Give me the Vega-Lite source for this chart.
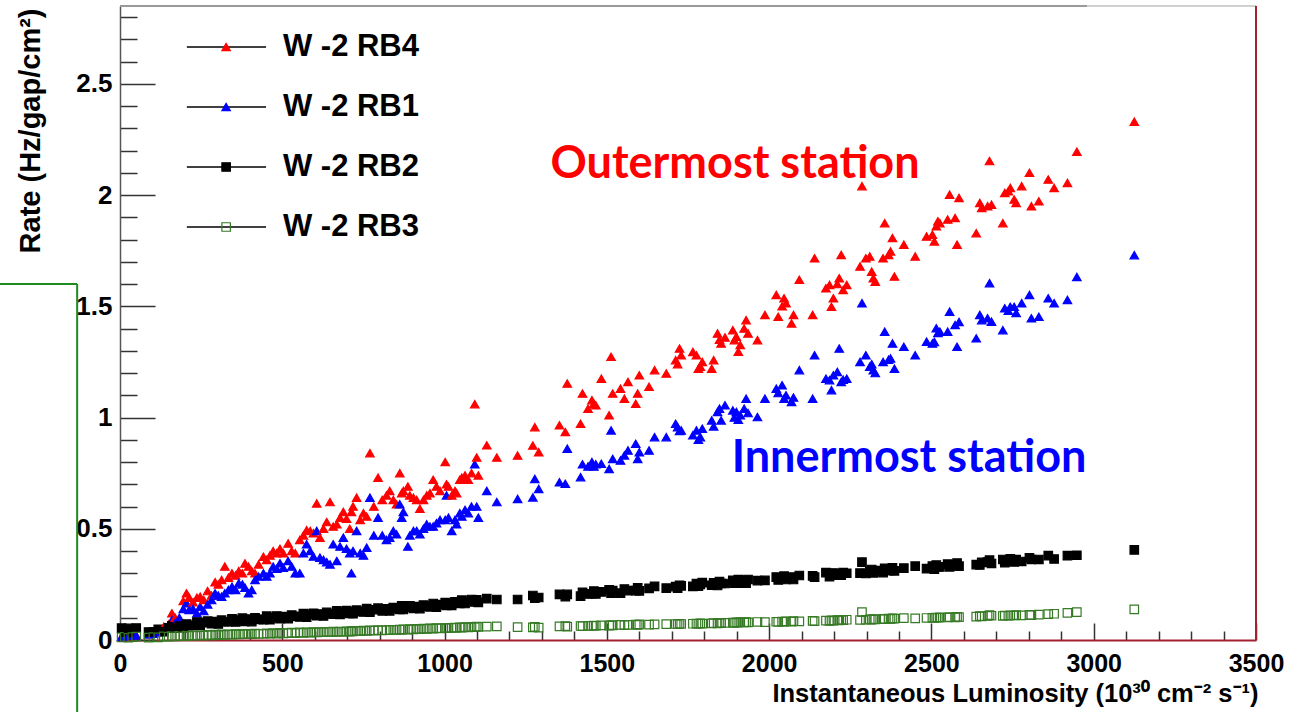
{
  "$schema": "https://vega.github.io/schema/vega-lite/v6.json",
  "width": 1136,
  "height": 634,
  "autosize": {"type": "none"},
  "padding": {"left": 120, "top": 6, "right": 38, "bottom": 72},
  "background": "white",
  "config": {"view": {"stroke": null}, "font": "Liberation Sans"},
  "datasets": {
    "legend": [
      {"code": "r4", "name": "W -2 RB4"},
      {"code": "r1", "name": "W -2 RB1"},
      {"code": "r2", "name": "W -2 RB2"},
      {"code": "r3", "name": "W -2 RB3"}
    ],
    "rates": [
      {"L":5,"r4":0.012,"r1":0.015,"r2":0.053,"r3":0.012},
      {"L":15,"r4":0.01,"r1":0.012,"r2":0.035,"r3":0.014},
      {"L":26,"r4":0.015,"r1":0.016,"r2":0.052,"r3":0.01},
      {"L":38,"r4":0.012,"r1":0.018,"r2":0.034,"r3":0.013},
      {"L":50,"r4":0.02,"r1":0.02,"r2":0.054,"r3":0.015},
      {"L":88,"r4":0.03,"r1":0.025,"r2":0.036,"r3":0.011},
      {"L":103,"r4":0.035,"r1":0.028,"r2":0.036,"r3":0.013},
      {"L":118,"r4":0.045,"r1":0.035,"r2":0.048,"r3":0.012},
      {"L":135,"r4":0.06,"r1":0.045,"r2":0.037,"r3":0.016},
      {"L":150,"r4":0.07,"r1":0.055,"r2":0.055,"r3":0.015},
      {"L":160,"r4":0.12,"r1":0.09,"r2":0.064,"r3":0.018},
      {"L":170,"r4":0.1,"r1":0.075,"r2":0.053,"r3":0.016},
      {"L":183,"r4":0.09,"r1":0.1,"r2":0.062,"r3":0.019},
      {"L":195,"r4":0.175,"r1":0.14,"r2":0.055,"r3":0.017},
      {"L":205,"r4":0.21,"r1":0.165,"r2":0.072,"r3":0.02},
      {"L":213,"r4":0.19,"r1":0.135,"r2":0.065,"r3":0.018},
      {"L":225,"r4":0.17,"r1":0.14,"r2":0.066,"r3":0.021},
      {"L":237,"r4":0.19,"r1":0.12,"r2":0.081,"r3":0.019},
      {"L":247,"r4":0.195,"r1":0.15,"r2":0.067,"r3":0.022},
      {"L":258,"r4":0.18,"r1":0.13,"r2":0.078,"r3":0.02},
      {"L":270,"r4":0.22,"r1":0.16,"r2":0.085,"r3":0.023},
      {"L":282,"r4":0.2,"r1":0.18,"r2":0.073,"r3":0.021},
      {"L":293,"r4":0.26,"r1":0.21,"r2":0.083,"r3":0.024},
      {"L":303,"r4":0.25,"r1":0.2,"r2":0.072,"r3":0.022},
      {"L":313,"r4":0.27,"r1":0.195,"r2":0.089,"r3":0.025},
      {"L":323,"r4":0.33,"r1":0.21,"r2":0.082,"r3":0.023},
      {"L":334,"r4":0.28,"r1":0.225,"r2":0.082,"r3":0.025},
      {"L":345,"r4":0.3,"r1":0.24,"r2":0.095,"r3":0.024},
      {"L":356,"r4":0.29,"r1":0.225,"r2":0.081,"r3":0.026},
      {"L":366,"r4":0.31,"r1":0.255,"r2":0.09,"r3":0.025},
      {"L":377,"r4":0.3,"r1":0.25,"r2":0.098,"r3":0.027},
      {"L":385,"r4":0.344,"r1":0.235,"r2":0.084,"r3":0.026},
      {"L":396,"r4":0.33,"r1":0.21,"r2":0.094,"r3":0.028},
      {"L":406,"r4":0.31,"r1":0.225,"r2":0.083,"r3":0.026},
      {"L":416,"r4":0.3,"r1":0.27,"r2":0.1,"r3":0.029},
      {"L":427,"r4":0.34,"r1":0.285,"r2":0.093,"r3":0.027},
      {"L":442,"r4":0.374,"r1":0.3,"r2":0.092,"r3":0.028},
      {"L":452,"r4":0.36,"r1":0.285,"r2":0.107,"r3":0.03},
      {"L":462,"r4":0.38,"r1":0.3,"r2":0.091,"r3":0.028},
      {"L":472,"r4":0.4,"r1":0.33,"r2":0.102,"r3":0.031},
      {"L":483,"r4":0.39,"r1":0.32,"r2":0.108,"r3":0.029},
      {"L":493,"r4":0.41,"r1":0.345,"r2":0.096,"r3":0.032},
      {"L":503,"r4":0.39,"r1":0.325,"r2":0.105,"r3":0.03},
      {"L":518,"r4":0.434,"r1":0.355,"r2":0.096,"r3":0.031},
      {"L":529,"r4":0.4,"r1":0.33,"r2":0.112,"r3":0.033},
      {"L":540,"r4":0.39,"r1":0.3,"r2":0.106,"r3":0.031},
      {"L":554,"r4":0.45,"r1":0.3,"r2":0.104,"r3":0.034},
      {"L":565,"r4":0.47,"r1":0.39,"r2":0.119,"r3":0.032},
      {"L":575,"r4":0.494,"r1":0.43,"r2":0.103,"r3":0.034},
      {"L":586,"r4":0.49,"r1":0.4,"r2":0.115,"r3":0.033},
      {"L":596,"r4":0.48,"r1":0.375,"r2":0.12,"r3":0.035},
      {"L":606,"r4":0.614,"r1":0.49,"r2":0.109,"r3":0.034},
      {"L":616,"r4":0.46,"r1":0.37,"r2":0.117,"r3":0.036},
      {"L":627,"r4":0.5,"r1":0.36,"r2":0.108,"r3":0.035},
      {"L":637,"r4":0.53,"r1":0.35,"r2":0.124,"r3":0.037},
      {"L":647,"r4":0.62,"r1":0.34,"r2":0.118,"r3":0.036},
      {"L":657,"r4":0.51,"r1":0.43,"r2":0.116,"r3":0.038},
      {"L":668,"r4":0.52,"r1":0.355,"r2":0.131,"r3":0.036},
      {"L":678,"r4":0.55,"r1":0.42,"r2":0.115,"r3":0.038},
      {"L":688,"r4":0.576,"r1":0.46,"r2":0.126,"r3":0.037},
      {"L":698,"r4":0.545,"r1":0.41,"r2":0.132,"r3":0.039},
      {"L":708,"r4":0.5,"r1":0.39,"r2":0.12,"r3":0.038},
      {"L":713,"r4":0.576,"r1":0.3,"r2":0.128,"r3":0.04},
      {"L":718,"r4":0.6,"r1":0.4,"r2":0.118,"r3":0.039},
      {"L":729,"r4":0.64,"r1":0.49,"r2":0.134,"r3":0.041},
      {"L":740,"r4":0.54,"r1":0.39,"r2":0.129,"r3":0.04},
      {"L":750,"r4":0.57,"r1":0.38,"r2":0.126,"r3":0.042},
      {"L":760,"r4":0.555,"r1":0.415,"r2":0.141,"r3":0.041},
      {"L":770,"r4":0.84,"r1":0.64,"r2":0.125,"r3":0.043},
      {"L":782,"r4":0.6,"r1":0.47,"r2":0.136,"r3":0.042},
      {"L":795,"r4":0.73,"r1":0.55,"r2":0.143,"r3":0.044},
      {"L":808,"r4":0.63,"r1":0.47,"r2":0.131,"r3":0.043},
      {"L":821,"r4":0.65,"r1":0.45,"r2":0.14,"r3":0.045},
      {"L":831,"r4":0.67,"r1":0.46,"r2":0.131,"r3":0.044},
      {"L":842,"r4":0.63,"r1":0.49,"r2":0.146,"r3":0.046},
      {"L":852,"r4":0.61,"r1":0.475,"r2":0.141,"r3":0.045},
      {"L":862,"r4":0.75,"r1":0.61,"r2":0.138,"r3":0.047},
      {"L":868,"r4":0.66,"r1":0.55,"r2":0.153,"r3":0.046},
      {"L":873,"r4":0.67,"r1":0.575,"r2":0.137,"r3":0.048},
      {"L":887,"r4":0.69,"r1":0.42,"r2":0.148,"r3":0.047},
      {"L":893,"r4":0.65,"r1":0.47,"r2":0.154,"r3":0.049},
      {"L":904,"r4":0.64,"r1":0.49,"r2":0.142,"r3":0.048},
      {"L":914,"r4":0.63,"r1":0.49,"r2":0.15,"r3":0.05},
      {"L":924,"r4":0.59,"r1":0.475,"r2":0.141,"r3":0.049},
      {"L":935,"r4":0.63,"r1":0.5,"r2":0.157,"r3":0.051},
      {"L":945,"r4":0.65,"r1":0.52,"r2":0.152,"r3":0.05},
      {"L":955,"r4":0.66,"r1":0.51,"r2":0.149,"r3":0.052},
      {"L":965,"r4":0.72,"r1":0.51,"r2":0.164,"r3":0.051},
      {"L":975,"r4":0.69,"r1":0.525,"r2":0.148,"r3":0.053},
      {"L":986,"r4":0.67,"r1":0.54,"r2":0.159,"r3":0.052},
      {"L":1002,"r4":0.8,"r1":0.54,"r2":0.168,"r3":0.054},
      {"L":1006,"r4":0.7,"r1":0.65,"r2":0.156,"r3":0.053},
      {"L":1012,"r4":0.69,"r1":0.55,"r2":0.164,"r3":0.055},
      {"L":1022,"r4":0.65,"r1":0.49,"r2":0.156,"r3":0.054},
      {"L":1032,"r4":0.67,"r1":0.54,"r2":0.171,"r3":0.056},
      {"L":1037,"r4":0.66,"r1":0.52,"r2":0.166,"r3":0.055},
      {"L":1047,"r4":0.72,"r1":0.57,"r2":0.164,"r3":0.057},
      {"L":1053,"r4":0.73,"r1":0.555,"r2":0.179,"r3":0.056},
      {"L":1063,"r4":0.74,"r1":0.585,"r2":0.164,"r3":0.058},
      {"L":1073,"r4":0.72,"r1":0.57,"r2":0.175,"r3":0.057},
      {"L":1083,"r4":0.75,"r1":0.6,"r2":0.182,"r3":0.059},
      {"L":1093,"r4":1.06,"r1":0.79,"r2":0.171,"r3":0.058},
      {"L":1099,"r4":0.82,"r1":0.6,"r2":0.18,"r3":0.06},
      {"L":1104,"r4":0.74,"r1":0.55,"r2":0.169,"r3":0.059},
      {"L":1130,"r4":0.875,"r1":0.67,"r2":0.186,"r3":0.06},
      {"L":1161,"r4":0.82,"r1":0.62,"r2":0.182,"r3":0.061},
      {"L":1225,"r4":0.829,"r1":0.634,"r2":0.182,"r3":0.058},
      {"L":1272,"r4":0.874,"r1":0.641,"r2":0.2,"r3":0.057},
      {"L":1278,"r4":0.957,"r1":0.724,"r2":0.188,"r3":0.059},
      {"L":1290,"r4":0.844,"r1":0.679,"r2":0.191,"r3":0.056},
      {"L":1354,"r4":0.965,"r1":0.709,"r2":0.205,"r3":0.061},
      {"L":1372,"r4":0.935,"r1":0.702,"r2":0.195,"r3":0.062},
      {"L":1378,"r4":1.153,"r1":0.86,"r2":0.205,"r3":0.06},
      {"L":1419,"r4":0.972,"r1":0.732,"r2":0.197,"r3":0.063},
      {"L":1425,"r4":1.108,"r1":0.79,"r2":0.214,"r3":0.062},
      {"L":1442,"r4":1.04,"r1":0.78,"r2":0.207,"r3":0.064},
      {"L":1454,"r4":1.078,"r1":0.8,"r2":0.208,"r3":0.063},
      {"L":1460,"r4":1.062,"r1":0.78,"r2":0.22,"r3":0.065},
      {"L":1466,"r4":1.055,"r1":0.79,"r2":0.207,"r3":0.064},
      {"L":1483,"r4":1.175,"r1":0.792,"r2":0.216,"r3":0.066},
      {"L":1507,"r4":1.01,"r1":0.769,"r2":0.226,"r3":0.065},
      {"L":1513,"r4":1.273,"r1":0.942,"r2":0.211,"r3":0.067},
      {"L":1518,"r4":1.108,"r1":0.814,"r2":0.222,"r3":0.066},
      {"L":1542,"r4":1.13,"r1":0.807,"r2":0.211,"r3":0.068},
      {"L":1554,"r4":1.085,"r1":0.83,"r2":0.229,"r3":0.067},
      {"L":1565,"r4":1.16,"r1":0.852,"r2":0.222,"r3":0.068},
      {"L":1589,"r4":1.062,"r1":0.882,"r2":0.222,"r3":0.069},
      {"L":1595,"r4":1.108,"r1":0.814,"r2":0.235,"r3":0.068},
      {"L":1600,"r4":1.19,"r1":0.844,"r2":0.221,"r3":0.07},
      {"L":1630,"r4":1.138,"r1":0.852,"r2":0.232,"r3":0.069},
      {"L":1647,"r4":1.213,"r1":0.912,"r2":0.241,"r3":0.07},
      {"L":1683,"r4":1.198,"r1":0.912,"r2":0.233,"r3":0.071},
      {"L":1712,"r4":1.258,"r1":0.972,"r2":0.24,"r3":0.072},
      {"L":1718,"r4":1.24,"r1":0.957,"r2":0.233,"r3":0.071},
      {"L":1724,"r4":1.31,"r1":0.94,"r2":0.246,"r3":0.073},
      {"L":1729,"r4":1.28,"r1":0.942,"r2":0.243,"r3":0.072},
      {"L":1765,"r4":1.295,"r1":0.92,"r2":0.241,"r3":0.073},
      {"L":1776,"r4":1.28,"r1":0.942,"r2":0.254,"r3":0.074},
      {"L":1782,"r4":1.22,"r1":0.9,"r2":0.242,"r3":0.073},
      {"L":1788,"r4":1.228,"r1":0.912,"r2":0.25,"r3":0.075},
      {"L":1794,"r4":1.25,"r1":0.95,"r2":0.258,"r3":0.074},
      {"L":1823,"r4":1.22,"r1":0.987,"r2":0.246,"r3":0.075},
      {"L":1829,"r4":1.258,"r1":0.96,"r2":0.257,"r3":0.076},
      {"L":1841,"r4":1.378,"r1":1.025,"r2":0.245,"r3":0.075},
      {"L":1847,"r4":1.35,"r1":1.04,"r2":0.262,"r3":0.077},
      {"L":1852,"r4":1.333,"r1":0.987,"r2":0.254,"r3":0.076},
      {"L":1864,"r4":1.36,"r1":1.055,"r2":0.254,"r3":0.077},
      {"L":1888,"r4":1.393,"r1":1.032,"r2":0.268,"r3":0.078},
      {"L":1893,"r4":1.348,"r1":1.0,"r2":0.255,"r3":0.077},
      {"L":1899,"r4":1.363,"r1":1.025,"r2":0.263,"r3":0.079},
      {"L":1905,"r4":1.296,"r1":0.99,"r2":0.271,"r3":0.078},
      {"L":1911,"r4":1.326,"r1":1.01,"r2":0.256,"r3":0.08},
      {"L":1923,"r4":1.4,"r1":1.04,"r2":0.267,"r3":0.079},
      {"L":1929,"r4":1.438,"r1":1.085,"r2":0.255,"r3":0.08},
      {"L":1935,"r4":1.378,"r1":1.02,"r2":0.272,"r3":0.079},
      {"L":1964,"r4":1.348,"r1":1.002,"r2":0.267,"r3":0.081},
      {"L":1987,"r4":1.461,"r1":1.085,"r2":0.268,"r3":0.08},
      {"L":2022,"r4":1.551,"r1":1.13,"r2":0.283,"r3":0.082},
      {"L":2028,"r4":1.453,"r1":1.11,"r2":0.27,"r3":0.081},
      {"L":2040,"r4":1.5,"r1":1.145,"r2":0.278,"r3":0.083},
      {"L":2046,"r4":1.536,"r1":1.085,"r2":0.287,"r3":0.082},
      {"L":2052,"r4":1.514,"r1":1.1,"r2":0.272,"r3":0.084},
      {"L":2069,"r4":1.423,"r1":1.07,"r2":0.283,"r3":0.083},
      {"L":2075,"r4":1.461,"r1":1.09,"r2":0.272,"r3":0.085},
      {"L":2093,"r4":1.619,"r1":1.213,"r2":0.29,"r3":0.084},
      {"L":2134,"r4":1.461,"r1":1.085,"r2":0.288,"r3":0.086},
      {"L":2140,"r4":1.716,"r1":1.28,"r2":0.283,"r3":0.085},
      {"L":2175,"r4":1.581,"r1":1.175,"r2":0.303,"r3":0.087},
      {"L":2186,"r4":1.596,"r1":1.168,"r2":0.285,"r3":0.086},
      {"L":2192,"r4":1.498,"r1":1.123,"r2":0.298,"r3":0.088},
      {"L":2198,"r4":1.536,"r1":1.19,"r2":0.301,"r3":0.087},
      {"L":2210,"r4":1.6,"r1":1.205,"r2":0.292,"r3":0.089},
      {"L":2216,"r4":1.626,"r1":1.31,"r2":0.297,"r3":0.088},
      {"L":2222,"r4":1.731,"r1":1.16,"r2":0.291,"r3":0.09},
      {"L":2228,"r4":1.574,"r1":1.17,"r2":0.303,"r3":0.089},
      {"L":2239,"r4":1.596,"r1":1.175,"r2":0.3,"r3":0.091},
      {"L":2280,"r4":1.679,"r1":1.25,"r2":0.301,"r3":0.09},
      {"L":2286,"r4":2.04,"r1":1.514,"r2":0.35,"r3":0.125},
      {"L":2298,"r4":1.716,"r1":1.28,"r2":0.299,"r3":0.091},
      {"L":2310,"r4":1.724,"r1":1.228,"r2":0.307,"r3":0.093},
      {"L":2316,"r4":1.656,"r1":1.24,"r2":0.317,"r3":0.092},
      {"L":2321,"r4":1.626,"r1":1.213,"r2":0.302,"r3":0.094},
      {"L":2327,"r4":1.611,"r1":1.2,"r2":0.312,"r3":0.093},
      {"L":2351,"r4":1.716,"r1":1.25,"r2":0.303,"r3":0.095},
      {"L":2356,"r4":1.874,"r1":1.386,"r2":0.322,"r3":0.094},
      {"L":2368,"r4":1.731,"r1":1.26,"r2":0.313,"r3":0.096},
      {"L":2374,"r4":1.747,"r1":1.266,"r2":0.313,"r3":0.095},
      {"L":2380,"r4":1.807,"r1":1.333,"r2":0.324,"r3":0.097},
      {"L":2386,"r4":1.634,"r1":1.22,"r2":0.311,"r3":0.096},
      {"L":2415,"r4":1.777,"r1":1.318,"r2":0.323,"r3":0.098},
      {"L":2450,"r4":1.724,"r1":1.28,"r2":0.332,"r3":0.097},
      {"L":2485,"r4":1.814,"r1":1.341,"r2":0.321,"r3":0.099},
      {"L":2503,"r4":1.822,"r1":1.333,"r2":0.332,"r3":0.1},
      {"L":2509,"r4":1.792,"r1":1.34,"r2":0.319,"r3":0.099},
      {"L":2515,"r4":1.86,"r1":1.401,"r2":0.337,"r3":0.101},
      {"L":2520,"r4":1.882,"r1":1.38,"r2":0.329,"r3":0.1},
      {"L":2526,"r4":1.874,"r1":1.386,"r2":0.329,"r3":0.102},
      {"L":2550,"r4":1.89,"r1":1.386,"r2":0.341,"r3":0.101},
      {"L":2556,"r4":2.002,"r1":1.476,"r2":0.329,"r3":0.103},
      {"L":2573,"r4":1.897,"r1":1.416,"r2":0.337,"r3":0.102},
      {"L":2579,"r4":1.777,"r1":1.318,"r2":0.346,"r3":0.104},
      {"L":2585,"r4":1.987,"r1":1.43,"r2":0.332,"r3":0.103},
      {"L":2638,"r4":1.829,"r1":1.356,"r2":0.339,"r3":0.105},
      {"L":2649,"r4":1.965,"r1":1.461,"r2":0.337,"r3":0.107},
      {"L":2655,"r4":1.942,"r1":1.438,"r2":0.349,"r3":0.106},
      {"L":2673,"r4":1.95,"r1":1.446,"r2":0.35,"r3":0.108},
      {"L":2679,"r4":2.153,"r1":1.604,"r2":0.359,"r3":0.112},
      {"L":2685,"r4":1.957,"r1":1.431,"r2":0.344,"r3":0.109},
      {"L":2720,"r4":1.874,"r1":1.393,"r2":0.362,"r3":0.108},
      {"L":2726,"r4":2.01,"r1":1.491,"r2":0.348,"r3":0.11},
      {"L":2737,"r4":2.017,"r1":1.48,"r2":0.356,"r3":0.109},
      {"L":2743,"r4":2.032,"r1":1.498,"r2":0.365,"r3":0.111},
      {"L":2755,"r4":1.98,"r1":1.498,"r2":0.351,"r3":0.11},
      {"L":2761,"r4":1.965,"r1":1.47,"r2":0.361,"r3":0.112},
      {"L":2778,"r4":2.04,"r1":1.514,"r2":0.353,"r3":0.111},
      {"L":2802,"r4":2.1,"r1":1.551,"r2":0.369,"r3":0.113},
      {"L":2808,"r4":1.95,"r1":1.446,"r2":0.362,"r3":0.112},
      {"L":2831,"r4":1.972,"r1":1.453,"r2":0.362,"r3":0.114},
      {"L":2860,"r4":2.07,"r1":1.536,"r2":0.379,"r3":0.116},
      {"L":2878,"r4":2.032,"r1":1.514,"r2":0.364,"r3":0.118},
      {"L":2919,"r4":2.055,"r1":1.529,"r2":0.379,"r3":0.122},
      {"L":2948,"r4":2.195,"r1":1.632,"r2":0.381,"r3":0.125},
      {"L":3125,"r4":2.33,"r1":1.73,"r2":0.405,"r3":0.138}
    ]
  },
  "layer": [
    {
      "layer": [
        {
          "data": {"values": [{}]},
          "mark": {"type": "rule", "color": "#9a9a9a", "strokeWidth": 2},
          "encoding": {"x": {"datum": 0}, "x2": {"datum": 2980}, "y": {"datum": 2.85}}
        },
        {
          "data": {"values": [{}]},
          "mark": {"type": "rule", "color": "#d0d0d0", "strokeWidth": 2},
          "encoding": {"x": {"datum": 2980}, "x2": {"datum": 3500}, "y": {"datum": 2.85}}
        },
        {
          "data": {"values": [{}]},
          "mark": {"type": "rule", "color": "#a3202e", "strokeWidth": 2},
          "encoding": {"x": {"datum": 3500}, "y": {"datum": 0}, "y2": {"datum": 2.85}}
        },
        {
          "data": {"values": [{}]},
          "mark": {"type": "rule", "color": "#1f8a1f", "strokeWidth": 2},
          "encoding": {"x": {"datum": -132}, "y": {"datum": -0.34}, "y2": {"datum": 1.6}}
        },
        {
          "data": {"values": [{}]},
          "mark": {"type": "rule", "color": "#1f8a1f", "strokeWidth": 2},
          "encoding": {"x": {"datum": -372}, "x2": {"datum": -132}, "y": {"datum": 1.6}}
        },
        {
          "data": {"name": "rates"},
          "transform": [
            {"fold": ["r4", "r1", "r2", "r3"], "as": ["code", "rate"]},
            {"lookup": "code", "from": {"data": {"name": "legend"}, "key": "code", "fields": ["name"]}}
          ],
          "mark": {"type": "point", "strokeWidth": 1.2, "opacity": 1},
          "encoding": {
            "x": {
              "field": "L", "type": "quantitative",
              "scale": {"domain": [0, 3500], "nice": false, "zero": false},
              "axis": {
                "title": "Instantaneous Luminosity (10³⁰ cm⁻² s⁻¹)",
                "values": [0,100,200,300,400,500,600,700,800,900,1000,1100,1200,1300,1400,1500,1600,1700,1800,1900,2000,2100,2200,2300,2400,2500,2600,2700,2800,2900,3000,3100,3200,3300,3400,3500],
                "tickCount": 200,
                "format": "d",
                "labelExpr": "datum.value % 500 === 0 ? datum.label : ''",
                "tickSize": {"condition": {"test": "datum.value % 500 === 0", "value": -17}, "value": -9},
                "tickColor": "#333333",
                "tickWidth": 1.5,
                "domainColor": "#a3202e",
                "domainWidth": 2,
                "grid": false,
                "labelFont": "Liberation Sans",
                "labelFontSize": 25,
                "labelFontWeight": "bold",
                "labelColor": "black",
                "labelPadding": 28,
                "labelFlush": false,
                "labelOverlap": false,
                "titleFont": "Liberation Sans",
                "titleFontSize": 25.5,
                "titleFontWeight": "bold",
                "titleColor": "black",
                "titleAlign": "right",
                "titleAnchor": "end",
                "titleX": 1138,
                "titleY": 61,
                "titleBaseline": "alphabetic"
              }
            },
            "y": {
              "field": "rate", "type": "quantitative",
              "scale": {"domain": [0, 2.85], "nice": false, "zero": false},
              "axis": {
                "title": "Rate (Hz/gap/cm²)",
                "values": [0,0.1,0.2,0.3,0.4,0.5,0.6,0.7,0.8,0.9,1,1.1,1.2,1.3,1.4,1.5,1.6,1.7,1.8,1.9,2,2.1,2.2,2.3,2.4,2.5,2.6,2.7,2.8],
                "tickCount": 200,
                "format": "~g",
                "labelExpr": "abs(datum.value*2 - round(datum.value*2)) < 0.001 ? datum.label : ''",
                "tickSize": {"condition": {"test": "abs(datum.value*2 - round(datum.value*2)) < 0.001", "value": -35}, "value": -17},
                "tickColor": "#333333",
                "tickWidth": 1.5,
                "domainColor": "#555555",
                "domainWidth": 1.5,
                "grid": false,
                "labelFont": "Liberation Sans",
                "labelFontSize": 26,
                "labelFontWeight": "bold",
                "labelColor": "black",
                "labelPadding": 43,
                "labelFlush": false,
                "labelOverlap": false,
                "titleFont": "Liberation Sans",
                "titleFontSize": 29,
                "titleFontWeight": "bold",
                "titleColor": "black",
                "titleAngle": 270,
                "titleAlign": "right",
                "titleBaseline": "middle",
                "titleX": -90,
                "titleY": 2
              }
            },
            "shape": {"field": "name", "type": "nominal", "legend": null,
              "scale": {"domain": ["W -2 RB4", "W -2 RB1", "W -2 RB2", "W -2 RB3"], "range": ["triangle-up", "triangle-up", "square", "square"]}},
            "size": {"field": "name", "type": "nominal", "legend": null,
              "scale": {"domain": ["W -2 RB4", "W -2 RB1", "W -2 RB2", "W -2 RB3"], "range": [72, 72, 90, 85]}},
            "fill": {"field": "name", "type": "nominal", "legend": null,
              "scale": {"domain": ["W -2 RB4", "W -2 RB1", "W -2 RB2", "W -2 RB3"], "range": ["#ff0000", "#0000ff", "#000000", "transparent"]}},
            "stroke": {"field": "name", "type": "nominal", "legend": null,
              "scale": {"domain": ["W -2 RB4", "W -2 RB1", "W -2 RB2", "W -2 RB3"], "range": ["#ff0000", "#0000ff", "#000000", "#367a25"]}}
          }
        },
        {
          "data": {"values": [{}]},
          "mark": {"type": "text", "font": "Lato", "fontSize": 45, "fontWeight": "bold", "color": "#ff0000", "align": "center", "baseline": "middle"},
          "encoding": {"x": {"datum": 1895}, "y": {"datum": 2.14}, "text": {"value": "Outermost station"}}
        },
        {
          "data": {"values": [{}]},
          "mark": {"type": "text", "font": "Lato", "fontSize": 45, "fontWeight": "bold", "color": "#0000ff", "align": "center", "baseline": "middle"},
          "encoding": {"x": {"datum": 2431}, "y": {"datum": 0.82}, "text": {"value": "Innermost station"}}
        }
      ]
    },
    {
      "data": {"name": "legend"},
      "encoding": {
        "y": {"field": "name", "type": "nominal", "axis": null,
          "scale": {"type": "point", "domain": ["W -2 RB4", "W -2 RB1", "W -2 RB2", "W -2 RB3"], "range": [41, 221], "padding": 0}}
      },
      "layer": [
        {
          "mark": {"type": "rule", "color": "black", "strokeWidth": 1.5},
          "encoding": {"x": {"datum": 206}, "x2": {"datum": 450}}
        },
        {
          "mark": {"type": "point", "strokeWidth": 1.2, "opacity": 1},
          "encoding": {
            "x": {"datum": 327},
            "shape": {"field": "name", "type": "nominal", "legend": null,
              "scale": {"domain": ["W -2 RB4", "W -2 RB1", "W -2 RB2", "W -2 RB3"], "range": ["triangle-up", "triangle-up", "square", "square"]}},
            "size": {"field": "name", "type": "nominal", "legend": null,
              "scale": {"domain": ["W -2 RB4", "W -2 RB1", "W -2 RB2", "W -2 RB3"], "range": [72, 72, 90, 85]}},
            "fill": {"field": "name", "type": "nominal", "legend": null,
              "scale": {"domain": ["W -2 RB4", "W -2 RB1", "W -2 RB2", "W -2 RB3"], "range": ["#ff0000", "#0000ff", "#000000", "transparent"]}},
            "stroke": {"field": "name", "type": "nominal", "legend": null,
              "scale": {"domain": ["W -2 RB4", "W -2 RB1", "W -2 RB2", "W -2 RB3"], "range": ["#ff0000", "#0000ff", "#000000", "#367a25"]}}
          }
        },
        {
          "mark": {"type": "text", "align": "left", "baseline": "middle", "font": "Liberation Sans", "fontSize": 31, "fontWeight": "bold", "color": "black"},
          "encoding": {"x": {"datum": 502}, "text": {"field": "name"}}
        }
      ]
    }
  ],
  "resolve": {"scale": {"y": "independent"}}
}
